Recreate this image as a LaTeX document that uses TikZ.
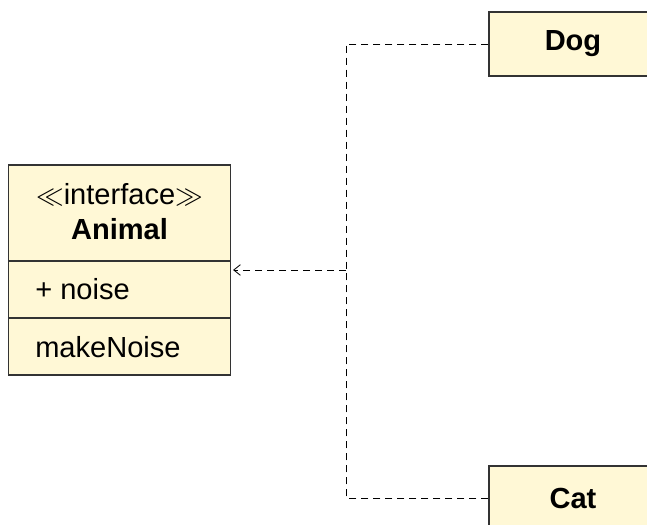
\documentclass[tikz,border=0pt]{standalone}
\usepackage{fontspec}
\setmainfont{Liberation Sans}
\usetikzlibrary{arrows.meta}
\definecolor{classfill}{HTML}{FFF8D6}
\definecolor{classline}{HTML}{333333}

\begin{document}
\begin{tikzpicture}[x=0.75pt,y=-0.75pt,
  classbox/.style={draw=classline, fill=classfill, line width=0.9pt, inner sep=0pt},
  classtext/.style={font=\fontsize{21.8}{26}\selectfont},
  classname/.style={font=\fontsize{21.8}{26}\selectfont\bfseries},
  realize/.style={draw=black, dash pattern=on 5.5pt off 3.5pt, line width=0.6pt}]
\useasboundingbox (0,0) rectangle (647,525);
\clip (0,0) rectangle (647,525);
% interface Animal
\node[classbox, minimum width=166.5pt, minimum height=157.5pt] (animal) at (119.5,270) {};
\draw[classline, line width=0.9pt] (animal.west |- 0,261) -- (animal.east |- 0,261);
\draw[classline, line width=0.9pt] (animal.west |- 0,318) -- (animal.east |- 0,318);
\node[classtext] (stereo) at (119.5,195) {$\ll$interface$\gg$};
\node[classname] (animalname) at (119.5,229) {Animal};
\node[classtext, anchor=west, inner sep=0pt] (noise) at (35,289) {+ noise};
\node[classtext, anchor=west, inner sep=0pt] (makenoise) at (35,347) {makeNoise};
% implementing classes
\node[classbox, classname, minimum width=126pt, minimum height=48pt] (dog) at (573,44) {Dog};
\node[classbox, classname, minimum width=126pt, minimum height=48pt] (cat) at (573,498) {Cat};
% realization
\coordinate (junction) at (346,270);
\draw[realize, -{Straight Barb[length=5pt,width=8pt]}, shorten >=1.5pt] (junction) -- (animal.east);
\draw[realize] (dog.west) -| (junction);
\draw[realize] (cat.west) -| (junction);
\end{tikzpicture}
\end{document}
